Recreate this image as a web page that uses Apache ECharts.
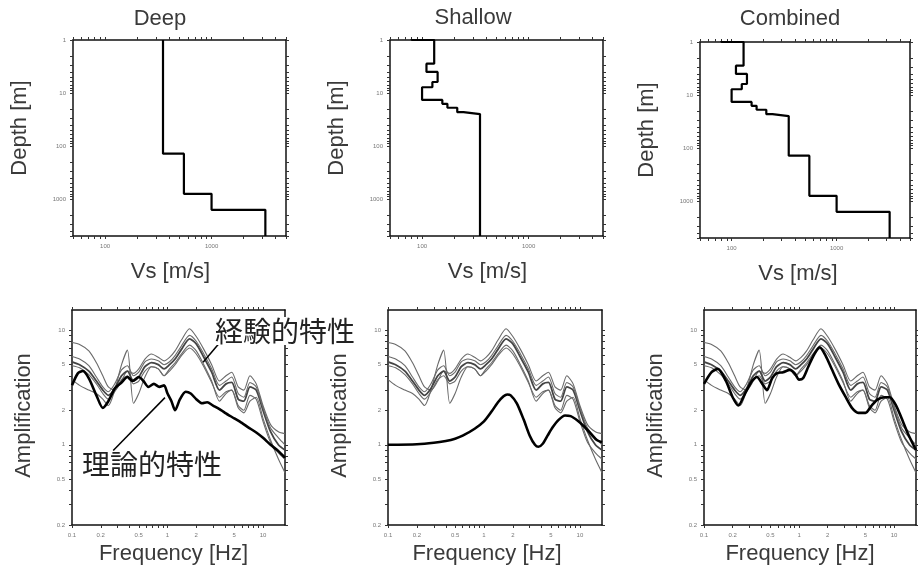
<!DOCTYPE html>
<html>
<head>
<meta charset="utf-8">
<script src="https://cdn.jsdelivr.net/npm/echarts@6/dist/echarts.min.js"></script>
<style>
  html, body { margin: 0; padding: 0; background: #fff; }
  #chart { width: 918px; height: 572px; }
</style>
</head>
<body>
<div id="chart"></div>
<script>
// 速度構造 (layer boundaries in m, Vs in m/s)
const deepDepth = [1, 140, 800, 1600, 5000];
const deepVs = [350, 550, 1000, 3200];
const shallowDepth = [0.5, 1, 2.8, 4.0, 6.2, 7.8, 13.5, 16, 19, 23, 25, 5000];
const shallowVs = [80, 130, 110, 140, 125, 100, 155, 173, 214, 245, 350];
const combDepth = [0.5, 1, 2.8, 4.0, 6.2, 7.8, 13.5, 16, 19, 23, 25, 140, 800, 1600, 5000];
const combVs = [80, 130, 110, 140, 125, 100, 155, 173, 214, 245, 350, 550, 1000, 3200];

// 経験的特性 (observed amplification, same in all three panels)
const empFreq = [0.1, 0.12, 0.15, 0.18, 0.21, 0.24, 0.28, 0.33, 0.38, 0.44, 0.5, 0.58, 0.68, 0.8, 0.92, 1.05, 1.2, 1.4, 1.7, 2.0, 2.4, 2.9, 3.5, 4.1, 4.7, 5.5, 6.3, 7.3, 8.5, 10, 12, 14.5, 17];
const emp1 = [7.8, 7.5, 6.6, 5.2, 4.0, 3.2, 3.0, 3.6, 4.4, 4.2, 4.6, 5.6, 6.2, 5.8, 5.4, 5.8, 6.6, 8.2, 10.3, 8.8, 6.8, 5.0, 3.6, 4.0, 4.3, 3.2, 3.0, 4.0, 3.4, 2.2, 1.5, 1.3, 1.25];
const emp2 = [3.7, 3.3, 3.0, 2.8, 2.5, 2.2, 3.0, 5.0, 6.7, 2.3, 2.8, 3.9, 4.8, 4.6, 4.0, 4.6, 5.2, 6.2, 7.4, 6.6, 5.0, 3.6, 2.4, 2.8, 3.0, 2.1, 1.9, 2.4, 2.6, 1.7, 1.1, 0.75, 0.57];
const emp3 = [5.3, 5.0, 4.4, 3.6, 3.0, 2.7, 3.1, 4.0, 4.4, 3.6, 3.9, 4.8, 5.2, 5.0, 4.6, 5.0, 5.6, 6.8, 8.4, 7.6, 5.8, 4.3, 3.0, 3.4, 3.5, 2.5, 2.4, 3.2, 3.0, 2.0, 1.3, 1.0, 0.9];
const emp4 = [5.9, 5.6, 4.9, 3.9, 3.2, 2.9, 3.4, 4.5, 4.9, 4.0, 4.3, 5.3, 5.6, 5.4, 5.0, 5.3, 6.0, 7.3, 9.0, 8.0, 6.2, 4.6, 3.3, 3.6, 3.9, 2.8, 2.6, 3.5, 3.2, 2.1, 1.4, 1.15, 1.0];
const emp5 = [4.9, 4.7, 4.1, 3.4, 2.8, 2.5, 2.9, 3.7, 4.0, 3.4, 3.6, 4.4, 4.8, 4.6, 4.0, 4.4, 5.0, 6.0, 7.0, 6.2, 4.8, 3.5, 2.6, 2.9, 3.0, 2.2, 2.0, 2.7, 2.5, 1.6, 1.05, 0.85, 0.75];

// 理論的特性 (theoretical amplification of each model)
const deepThFreq = [0.1, 0.115, 0.13, 0.15, 0.18, 0.21, 0.24, 0.28, 0.33, 0.38, 0.43, 0.5, 0.56, 0.63, 0.72, 0.82, 0.92, 1.0, 1.1, 1.2, 1.35, 1.55, 1.75, 2.0, 2.3, 2.6, 3.0, 3.5, 4.0, 5.0, 6.0, 7.0, 8.5, 10, 12, 14.5, 17];
const deepThAmp = [3.3, 4.2, 4.4, 3.8, 2.7, 2.1, 2.4, 3.1, 3.5, 3.9, 3.6, 3.9, 3.6, 3.2, 3.4, 3.2, 3.3, 2.8, 2.4, 2.0, 2.5, 2.9, 2.8, 2.5, 2.3, 2.35, 2.2, 2.05, 1.9, 1.7, 1.55, 1.42, 1.28, 1.15, 1.0, 0.88, 0.77];
const shallowThFreq = [0.1, 0.2, 0.3, 0.4, 0.5, 0.6, 0.8, 1.0, 1.2, 1.4, 1.6, 1.75, 1.9, 2.2, 2.6, 3.0, 3.4, 3.7, 4.1, 4.6, 5.2, 6.0, 7.0, 8.0, 9.5, 11, 13, 15, 17];
const shallowThAmp = [1.0, 1.01, 1.04, 1.08, 1.13, 1.2, 1.38, 1.6, 1.95, 2.35, 2.65, 2.75, 2.7, 2.3, 1.65, 1.2, 1.0, 0.96, 1.02, 1.2, 1.42, 1.65, 1.8, 1.78, 1.62, 1.45, 1.25, 1.1, 1.05];
const combThFreq = [0.1, 0.12, 0.14, 0.17, 0.2, 0.23, 0.27, 0.32, 0.36, 0.41, 0.46, 0.52, 0.58, 0.68, 0.8, 0.9, 1.0, 1.1, 1.25, 1.45, 1.65, 1.9, 2.2, 2.6, 3.1, 3.6, 4.2, 5.0, 5.8, 6.8, 8.0, 9.0, 10.5, 12, 14, 17];
const combThAmp = [3.4, 4.3, 4.6, 3.6, 2.6, 2.2, 2.8, 3.6, 3.9, 3.4, 3.0, 3.8, 4.2, 4.3, 4.5, 4.2, 3.7, 3.8, 4.8, 6.2, 7.1, 6.0, 4.6, 3.4, 2.6, 2.1, 1.9, 1.9, 2.2, 2.5, 2.6, 2.6, 2.2, 1.7, 1.25, 0.9];

// tick labels
const vsTicks = [100, 1000];
const depthTicks = [1, 10, 100, 1000];
const freqTicks = [0.1, 0.2, 0.5, 1, 2, 5, 10];
const ampTicks = [0.2, 0.5, 1, 2, 5, 10];

const titles = ['Deep', 'Shallow', 'Combined'];

const FONT = 'Liberation Sans, Arial, sans-serif';
const CJK = 'Noto Sans CJK JP';

const chart = echarts.init(document.getElementById('chart'));

// grid boxes
const grids = [
  { left: 73, top: 40, width: 213, height: 196 },
  { left: 390, top: 40, width: 213, height: 196 },
  { left: 700, top: 42, width: 210, height: 196 },
  { left: 72, top: 310, width: 213, height: 215 },
  { left: 388, top: 310, width: 214, height: 215 },
  { left: 704, top: 310, width: 212, height: 215 }
];

// all 1..9 multiples inside a range, for the frame ticks
function minorTicks(min, max) {
  const out = [];
  for (let e = -2; e <= 4; e++) {
    for (let m = 1; m <= 9; m++) {
      const v = +(m * Math.pow(10, e)).toPrecision(3);
      if (v >= min && v <= max) out.push(v);
    }
  }
  return out;
}

const fmt = v => String(+(+v).toPrecision(3));

// shift = offset of the axis name from the box centre (via padding)
function makeAxis(gi, pos, min, max, labels, name, nameGap, inverse, shift) {
  const main = pos === 'bottom' || pos === 'left';
  const sh = shift || 0;
  let pad = [0, 0, 0, 0];
  if (sh < 0) pad = [0, -2 * sh, 0, 0];
  if (sh > 0) pad = [0, 0, 0, 2 * sh];
  return {
    type: 'log',
    logBase: 10,
    gridIndex: gi,
    position: pos,
    min: min,
    max: max,
    inverse: !!inverse,
    axisLine: { show: true, onZero: false, lineStyle: { color: '#111', width: 1.5 } },
    axisTick: { show: true, customValues: minorTicks(min, max), length: 3, lineStyle: { color: '#333', width: 1 } },
    axisLabel: {
      show: main,
      customValues: labels,
      formatter: fmt,
      fontSize: 6,
      color: '#777',
      margin: 7,
      fontFamily: FONT
    },
    splitLine: { show: false },
    minorTick: { show: false },
    name: main ? name : '',
    nameLocation: 'middle',
    nameGap: nameGap,
    nameTextStyle: { fontSize: 22, color: '#3a3a3a', fontFamily: FONT, padding: pad }
  };
}

const vsShift = [-9, -9, -7];
const freqShift = [-5, -8, -10];
const xAxes = [];
const yAxes = [];
for (let i = 0; i < 3; i++) {
  xAxes.push(makeAxis(i, 'bottom', 50, 5000, vsTicks, 'Vs [m/s]', 25, false, vsShift[i]));
  xAxes.push(makeAxis(i, 'top', 50, 5000, vsTicks, '', 0));
  yAxes.push(makeAxis(i, 'left', 1, 5000, depthTicks, 'Depth [m]', 42, true, 10));
  yAxes.push(makeAxis(i, 'right', 1, 5000, depthTicks, '', 0, true));
}
for (let i = 3; i < 6; i++) {
  xAxes.push(makeAxis(i, 'bottom', 0.0999, 17, freqTicks, 'Frequency [Hz]', 18, false, freqShift[i - 3]));
  xAxes.push(makeAxis(i, 'top', 0.0999, 17, freqTicks, '', 0));
  yAxes.push(makeAxis(i, 'left', 0.1995, 15, ampTicks, 'Amplification', 37, false, 2));
  yAxes.push(makeAxis(i, 'right', 0.1995, 15, ampTicks, '', 0));
}

function profile(depth, vs) {
  const pts = [];
  for (let i = 0; i < vs.length; i++) {
    pts.push([vs[i], depth[i]]);
    pts.push([vs[i], depth[i + 1]]);
  }
  return pts;
}

function pairs(xs, ys) {
  return xs.map((x, i) => [x, ys[i]]);
}

const series = [];
const profiles = [profile(deepDepth, deepVs), profile(shallowDepth, shallowVs), profile(combDepth, combVs)];
profiles.forEach((p, i) => {
  series.push({
    type: 'line', xAxisIndex: i * 2, yAxisIndex: i * 2, data: p,
    showSymbol: false, silent: true,
    lineStyle: { color: '#000', width: 2.2 }
  });
});

const emps = [emp1, emp2, emp3, emp4, emp5];
const theo = [pairs(deepThFreq, deepThAmp), pairs(shallowThFreq, shallowThAmp), pairs(combThFreq, combThAmp)];
for (let k = 0; k < 3; k++) {
  const ai = (k + 3) * 2;
  emps.forEach((e, j) => {
    series.push({
      type: 'line', xAxisIndex: ai, yAxisIndex: ai, data: pairs(empFreq, e),
      showSymbol: false, silent: true, smooth: 0.25,
      lineStyle: { color: j === 2 ? '#444' : '#6a6a6a', width: j === 2 ? 1.8 : 1.1 }
    });
  });
  const s = {
    type: 'line', xAxisIndex: ai, yAxisIndex: ai, data: theo[k],
    showSymbol: false, silent: true, smooth: 0.25,
    lineStyle: { color: '#000', width: 2.6 }
  };
  if (k === 0) {
    // 引き出し線
    s.markLine = {
      silent: true, symbol: 'none', label: { show: false },
      lineStyle: { color: '#000', width: 1.5, type: 'solid' },
      data: [
        [{ coord: [0.27, 0.89] }, { coord: [0.94, 2.58] }],
        [{ coord: [3.55, 7.85] }, { coord: [2.36, 5.24] }]
      ]
    };
  }
  series.push(s);
}

const titleStyle = { fontSize: 22, fill: '#3a3a3a', fontFamily: FONT, align: 'center', verticalAlign: 'middle' };
const graphic = [
  { type: 'text', x: 160, y: 19, style: Object.assign({ text: titles[0] }, titleStyle) },
  { type: 'text', x: 473, y: 18, style: Object.assign({ text: titles[1] }, titleStyle) },
  { type: 'text', x: 790, y: 19, style: Object.assign({ text: titles[2] }, titleStyle) },
  { type: 'text', x: 285, y: 331, z: 100, style: { text: '経験的特性', fontSize: 28, fill: '#222', fontFamily: CJK, align: 'center', verticalAlign: 'middle', backgroundColor: '#fff', padding: [0, 1] } },
  { type: 'text', x: 152, y: 464, z: 100, style: { text: '理論的特性', fontSize: 28, fill: '#222', fontFamily: CJK, align: 'center', verticalAlign: 'middle' } }
];

chart.setOption({
  backgroundColor: '#fff',
  animation: false,
  grid: grids,
  xAxis: xAxes,
  yAxis: yAxes,
  series: series,
  graphic: graphic
});
</script>
</body>
</html>
